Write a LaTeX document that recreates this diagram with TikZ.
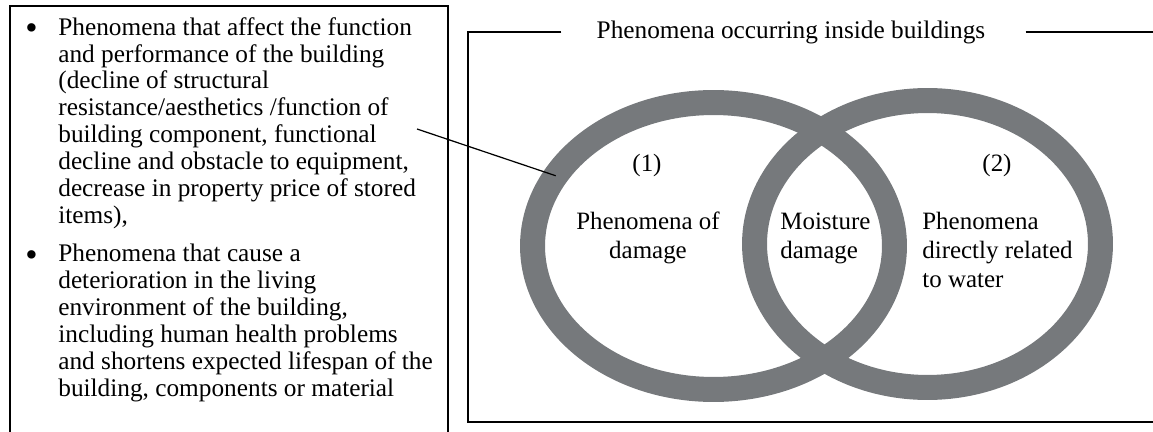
\documentclass[tikz,border=0pt]{standalone}
\usepackage{fontspec}
\setmainfont{Liberation Serif}
\usepackage{tikz}
\usetikzlibrary{shapes.geometric,positioning}
\definecolor{ringgray}{RGB}{118,121,124}
\newcommand{\bodyfont}{\fontsize{14.4}{15.3}\selectfont}
\newcommand{\vennfont}{\fontsize{14.2}{16.4}\selectfont}
\newcommand{\bigdot}{\raisebox{-2.4pt}{\fontsize{20}{20}\selectfont\textbullet}}

\begin{document}
\begin{tikzpicture}[x=0.02cm, y=-0.02cm,
  frame/.style={line width=1.1pt, black},
  ring/.style={ellipse, draw=ringgray, line width=0.5cm, inner sep=0pt, outer sep=0pt},
  listtext/.style={font=\bodyfont, align=left, inner sep=0pt, anchor=north west},
  bulletmark/.style={font=\bodyfont, inner sep=0pt, anchor=north},
  venntext/.style={font=\vennfont, inner sep=0pt, anchor=north}]
\clip (0,0) rectangle (1153,432);

% Left frame, it runs past the lower edge
\draw[frame] (10,6) rectangle (448,470);

% The two bullet items
\node[listtext] (item1) at (58,16) {\strut Phenomena that affect the function\\
  and performance of the building\\
  (decline of structural\\
  resistance/aesthetics /function of\\
  building component, functional\\
  decline and obstacle to equipment,\\
  decrease in property price of stored\\
  items),\strut};
\node[listtext, below=0.22cm of item1.south west, anchor=north west] (item2) {\strut Phenomena that cause a\\
  deterioration in the living\\
  environment of the building,\\
  including human health problems\\
  and shortens expected lifespan of the\\
  building, components or material\strut};
\node[bulletmark] (dot1) at ([xshift=-0.53cm]item1.north west) {\strut\bigdot};
\node[bulletmark] (dot2) at ([xshift=-0.53cm]item2.north west) {\strut\bigdot};

% Right frame with its title in the top line
\node[font=\bodyfont, inner sep=0pt] (title) at (791,32) {Phenomena occurring inside buildings};
\draw[frame] ([xshift=-0.7cm]title.west) -| (468,422) -- (1160,422);
\draw[frame] ([xshift=0.8cm]title.east) -- (1160,32);

% The two rings
\node[ring, minimum width=7.24cm, minimum height=5.74cm] (ringL) at (713.5,246) {};
\node[ring, minimum width=6.92cm, minimum height=5.74cm] (ringR) at (927.5,244) {};

% Pointer from the list to ring (1)
\coordinate (ptr) at (417,129);
\draw[line width=0.7pt] (ptr) -- (ringL.156);

% Texts inside the rings
\node[venntext] (num1) at (647,151) {\strut(1)};
\node[venntext] (num2) at (997,151) {\strut(2)};
\node[venntext, align=center] (dmg) at (648,209) {\strut Phenomena of\\damage\strut};
\node[venntext, align=left, anchor=north west] (moist) at (780,209) {\strut Moisture\\damage\strut};
\node[venntext, align=left, anchor=north west] (water) at (922,209) {\strut Phenomena\\directly related\\to water\strut};
\end{tikzpicture}
\end{document}
